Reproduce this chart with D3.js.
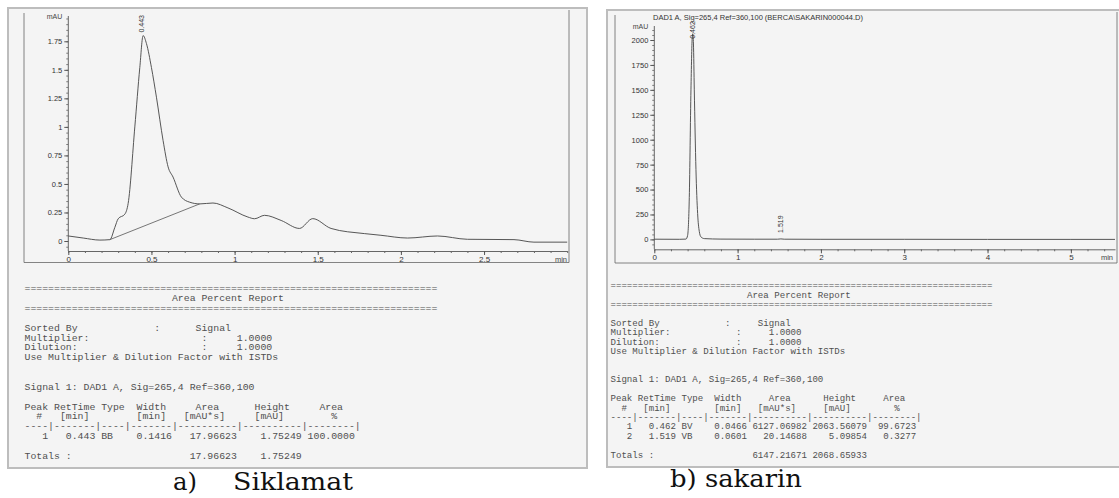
<!DOCTYPE html>
<html>
<head>
<meta charset="utf-8">
<script src="https://cdnjs.cloudflare.com/ajax/libs/d3/7.8.5/d3.min.js"></script>
<style>
    html, body { margin: 0; padding: 0; background: #fff; }
    svg { display: block; }
    .report text { font-family: "Liberation Mono", monospace; white-space: pre; fill: #505050; }
    .tick text { font-family: "Liberation Sans", Arial, sans-serif; fill: #333; }
</style>
</head>
<body>
<div id="chart"></div>
<script>
"use strict";

// a) Siklamat - signal (min, mAU)
var timeSiklamat = [0, 0.09, 0.19, 0.25, 0.28, 0.30, 0.34, 0.36, 0.40, 0.43, 0.45, 0.47, 0.50, 0.53,
    0.57, 0.60, 0.63, 0.68, 0.73, 0.79, 0.87, 0.96, 1.08, 1.12, 1.18, 1.28, 1.39, 1.47, 1.58,
    1.78, 1.88, 2.04, 2.22, 2.40, 2.68, 2.80, 3.0];
var signalSiklamat = [0.044, 0.026, 0.008, 0.012, 0.12, 0.195, 0.235, 0.33, 1.0, 1.52, 1.80, 1.73, 1.52, 1.26,
    0.88, 0.65, 0.56, 0.385, 0.34, 0.325, 0.333, 0.29, 0.21, 0.195, 0.225, 0.18, 0.11, 0.196, 0.11,
    0.065, 0.05, 0.026, 0.044, 0.015, 0.012, -0.01, -0.01];
var baseTimeSiklamat = [0.25, 0.79];
var baseSignalSiklamat = [0.012, 0.325];
var peakTimeSiklamat = [0.443];
var peakTopSiklamat = [1.80];
var xTicksSiklamat = [0, 0.5, 1, 1.5, 2, 2.5];
var yTicksSiklamat = [0, 0.25, 0.5, 0.75, 1, 1.25, 1.5, 1.75];

// b) sakarin
var timeSakarin = [0, 0.30, 0.38, 0.40, 0.42, 0.44, 0.455, 0.462, 0.47, 0.48, 0.50, 0.52, 0.54, 0.56,
    0.60, 0.80, 1.20, 1.48, 1.519, 1.56, 2.00, 3.00, 4.00, 5.00, 5.53];
var signalSakarin = [2, 1, 3, 40, 420, 1500, 2020, 2063, 1960, 1500, 700, 260, 80, 25,
    8, 3, 2, 2, 5, 2, 1, 1, 0, 0, 0];
var peakTimeSakarin = [0.462, 1.519];
var peakTopSakarin = [2063, 5];
var xTicksSakarin = [0, 1, 2, 3, 4, 5];
var yTicksSakarin = [0, 250, 500, 750, 1000, 1250, 1500, 1750, 2000];

// report tables
var peakNoSiklamat = [1];
var retSiklamat = [0.443];
var typeSiklamat = ["BB"];
var widthSiklamat = [0.1416];
var areaSiklamat = [17.96623];
var heightSiklamat = [1.75249];
var percentSiklamat = [100];
var totalsSiklamat = [17.96623, 1.75249];

var peakNoSakarin = [1, 2];
var retSakarin = [0.462, 1.519];
var typeSakarin = ["BV", "VB"];
var widthSakarin = [0.0466, 0.0601];
var areaSakarin = [6127.06982, 20.14688];
var heightSakarin = [2063.56079, 5.09854];
var percentSakarin = [99.6723, 0.3277];
var totalsSakarin = [6147.21671, 2068.65933];

var multiplier = 1, dilution = 1;
var signalName = "Signal 1: DAD1 A, Sig=265,4 Ref=360,100";
var titleSakarin = "DAD1 A, Sig=265,4 Ref=360,100 (BERCA\\SAKARIN000044.D)";

var svg = d3.select("#chart").append("svg")
    .attr("width", 1119)
    .attr("height", 498);

svg.append("rect").attr("width", 1119).attr("height", 498).attr("fill", "#fff");

var drawPanel = function(x, y, w, h) {
    svg.append("rect")
        .attr("x", x).attr("y", y)
        .attr("width", w).attr("height", h)
        .attr("fill", "#f4f4f4")
        .attr("stroke", "#bdbdbd")
        .attr("stroke-width", 2);
};

var drawChromatogram = function(o) {
    var g = svg.append("g"),
        x = d3.scaleLinear().domain(o.xDomain).range(o.xRange),
        y = d3.scaleLinear().domain(o.yDomain).range(o.yRange),
        fmt = d3.format("~g"),
        pts = o.time.map(function(t, i) { return [t, o.signal[i]]; }),
        line;

    //inner frame
    g.append("path")
        .attr("d", o.frame)
        .attr("fill", "none")
        .attr("stroke", "#666")
        .attr("stroke-width", 0.8);

    //x axis, major + minor ticks
    g.append("g")
        .attr("transform", "translate(0," + o.axisY + ")")
        .call(d3.axisBottom(x).tickValues(d3.range(0, o.xDomain[1] + 1e-6, o.xMinor))
            .tickSize(2).tickSizeOuter(0).tickFormat(""))
        .call(function(a) { a.selectAll("line,path").attr("stroke", "#666"); });
    g.append("g")
        .attr("transform", "translate(0," + o.axisY + ")")
        .call(d3.axisBottom(x).tickValues(o.xTicks).tickSize(4).tickPadding(1).tickFormat(fmt))
        .call(function(a) {
            a.select(".domain").remove();
            a.selectAll("line").attr("stroke", "#555");
            a.selectAll("text").attr("font-size", 8);
        });
    g.append("text")
        .attr("x", o.minX)
        .attr("y", o.axisY + 11)
        .attr("text-anchor", "end")
        .attr("font-family", "Liberation Sans, Arial, sans-serif")
        .attr("font-size", 7.5)
        .attr("fill", "#444")
        .text("min");

    //y axis
    var x0 = x(0);
    g.append("line")
        .attr("x1", x0).attr("x2", x0)
        .attr("y1", o.yTop).attr("y2", o.axisY)
        .attr("stroke", "#666");
    g.append("g")
        .attr("transform", "translate(" + x0 + ",0)")
        .call(d3.axisLeft(y).tickValues(d3.range(o.yMinorStart, o.yMax, o.yMinor))
            .tickSize(2).tickFormat(""))
        .call(function(a) {
            a.select(".domain").remove();
            a.selectAll("line").attr("stroke", "#777");
        });
    g.append("g")
        .attr("transform", "translate(" + x0 + ",0)")
        .call(d3.axisLeft(y).tickValues(o.yTicks).tickSize(4).tickPadding(2).tickFormat(fmt))
        .call(function(a) {
            a.select(".domain").remove();
            a.selectAll("line").attr("stroke", "#555");
            a.selectAll("text").attr("font-size", 7.5);
        });
    g.append("text")
        .attr("x", x0 - 6)
        .attr("y", o.yTop + 3)
        .attr("text-anchor", "end")
        .attr("font-family", "Liberation Sans, Arial, sans-serif")
        .attr("font-size", 7)
        .attr("fill", "#444")
        .text("mAU");

    //signal
    line = d3.line()
        .x(function(d) { return x(d[0]); })
        .y(function(d) { return y(d[1]); })
        .curve(d3.curveMonotoneX);
    g.append("path")
        .datum(pts)
        .attr("d", line)
        .attr("fill", "none")
        .attr("stroke", "#444")
        .attr("stroke-width", 0.9);

    //integration baseline
    if (o.baseTime) {
        g.append("path")
            .datum(o.baseTime.map(function(t, i) { return [t, o.baseSignal[i]]; }))
            .attr("d", d3.line().x(function(d) { return x(d[0]); }).y(function(d) { return y(d[1]); }))
            .attr("fill", "none")
            .attr("stroke", "#555")
            .attr("stroke-width", 0.8);
    }

    //retention time labels
    g.selectAll(".peak")
        .data(o.peakTime)
        .enter()
        .append("text")
        .attr("class", "peak")
        .attr("transform", function(d, i) {
            return "translate(" + x(d) + "," + (y(o.peakTop[i]) - o.labelGap[i]) + ") rotate(-90)";
        })
        .attr("dy", "0.35em")
        .attr("font-family", "Liberation Sans, Arial, sans-serif")
        .attr("font-size", 7)
        .attr("fill", "#333")
        .text(function(d) { return d.toFixed(3); });

    if (o.title) {
        g.append("text")
            .attr("x", o.titleX)
            .attr("y", o.titleY)
            .attr("font-family", "Liberation Sans, Arial, sans-serif")
            .attr("font-size", 8)
            .attr("textLength", 210)
            .attr("lengthAdjust", "spacingAndGlyphs")
            .attr("fill", "#333")
            .text(o.title);
    }
};

var reportLines = function(r) {
    var rule = "=".repeat(70),
        lines,
        i;

    lines = [
        rule,
        " ".repeat(25) + "Area Percent Report",
        rule,
        "",
        "Sorted By".padEnd(r.sortCol) + ":" + " ".repeat(r.sortGap) + "Signal",
        "Multiplier:".padEnd(r.multCol) + ":" + "     " + multiplier.toFixed(4),
        "Dilution:".padEnd(r.multCol) + ":" + "     " + dilution.toFixed(4),
        "Use Multiplier & Dilution Factor with ISTDs",
        "",
        "",
        signalName,
        "",
        "Peak RetTime Type  Width     Area      Height     Area  ",
        "  #   [min]        [min]   [mAU*s]     [mAU]        %",
        "----|-------|----|-------|----------|----------|--------|"
    ];
    for (i = 0; i < r.no.length; i++) {
        lines.push(String(r.no[i]).padStart(4) +
            r.ret[i].toFixed(3).padStart(8) + " " +
            r.type[i].padEnd(4) +
            r.width[i].toFixed(4).padStart(8) +
            r.area[i].toFixed(5).padStart(11) +
            r.height[i].toFixed(5).padStart(11) +
            r.pct[i].toFixed(4).padStart(9));
    }
    lines.push("");
    lines.push("Totals :".padEnd(25) + r.totals[0].toFixed(5).padStart(11) + r.totals[1].toFixed(5).padStart(11));
    return lines;
};

var drawReport = function(lines, x, y4, lh, size) {
    svg.append("g")
        .attr("class", "report")
        .selectAll("text")
        .data(lines)
        .enter()
        .append("text")
        .attr("x", x)
        .attr("y", function(d, i) { return y4 + (i - 4) * lh + 3.2; })
        .attr("font-size", size)
        .text(function(d) { return d; });
};

var drawCaption = function(parts) {
    parts.forEach(function(p) {
        svg.append("text")
            .attr("x", p.x)
            .attr("y", p.y)
            .attr("font-family", "DejaVu Serif, Georgia, serif")
            .attr("font-size", 24)
            .attr("textLength", p.w)
            .attr("lengthAdjust", "spacingAndGlyphs")
            .attr("fill", "#111")
            .text(p.text);
    });
};

// panels
drawPanel(8, 8, 579, 460);
drawPanel(607, 10, 520, 457);

drawChromatogram({
    time: timeSiklamat, signal: signalSiklamat,
    baseTime: baseTimeSiklamat, baseSignal: baseSignalSiklamat,
    peakTime: peakTimeSiklamat, peakTop: peakTopSiklamat, labelGap: [3],
    xTicks: xTicksSiklamat, yTicks: yTicksSiklamat,
    xDomain: [0, 3], xRange: [68.3, 567.2],
    yDomain: [0, 1.75], yRange: [241, 41.3],
    xMinor: 0.1, yMinor: 0.05, yMinorStart: -0.05, yMax: 1.96,
    axisY: 251, yTop: 16, minX: 567,
    frame: "M24,13V262.5H569V10"
});

drawChromatogram({
    time: timeSakarin, signal: signalSakarin,
    peakTime: peakTimeSakarin, peakTop: peakTopSakarin, labelGap: [-5, 6],
    xTicks: xTicksSakarin, yTicks: yTicksSakarin,
    xDomain: [0, 5.53], xRange: [654.3, 1115],
    yDomain: [0, 2000], yRange: [239.4, 40],
    xMinor: 0.2, yMinor: 50, yMinorStart: -50, yMax: 2110,
    axisY: 249.3, yTop: 26, minX: 1113,
    frame: "M615,15V263H1117V12",
    title: titleSakarin, titleX: 653, titleY: 20
});

// reports
drawReport(reportLines({
    sortCol: 22, sortGap: 6, multCol: 30,
    no: peakNoSiklamat, ret: retSiklamat, type: typeSiklamat, width: widthSiklamat,
    area: areaSiklamat, height: heightSiklamat, pct: percentSiklamat, totals: totalsSiklamat
}), 24.5, 327.5, 9.85, 9.83);

drawReport(reportLines({
    sortCol: 21, sortGap: 5, multCol: 23,
    no: peakNoSakarin, ret: retSakarin, type: typeSakarin, width: widthSakarin,
    area: areaSakarin, height: heightSakarin, pct: percentSakarin, totals: totalsSakarin
}), 610.5, 322.7, 9.4, 9.1);

// captions
drawCaption([
    { text: "a)", x: 173, y: 490, w: 24 },
    { text: "Siklamat", x: 233, y: 490, w: 120 },
    { text: "b) sakarin", x: 670, y: 487, w: 132 }
]);
</script>
</body>
</html>
